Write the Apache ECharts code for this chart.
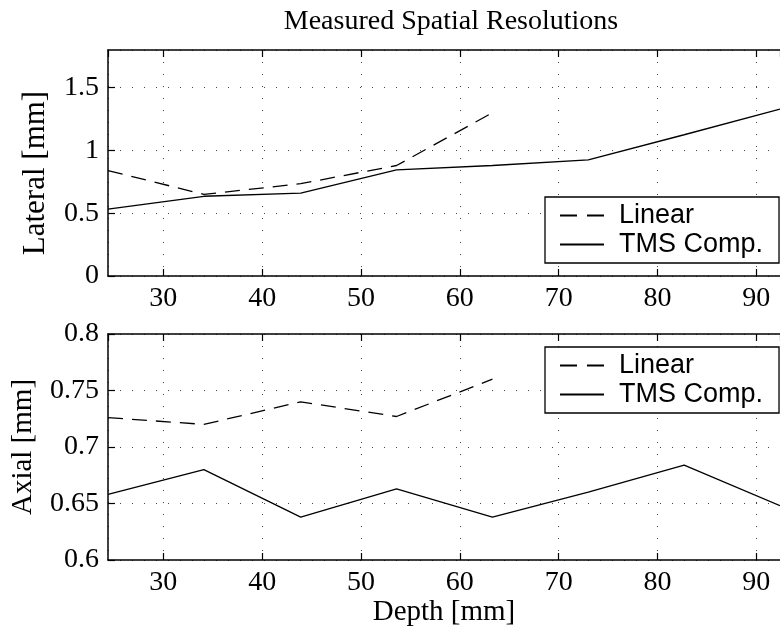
<!DOCTYPE html>
<html>
<head>
<meta charset="utf-8">
<script src="https://cdn.jsdelivr.net/npm/echarts@6/dist/echarts.min.js"></script>
<style>html,body{margin:0;padding:0;background:#fff;}#c{width:780px;height:635px;}</style>
</head>
<body>
<div id="c"></div>
<script>
const depth = [24.4, 34.1, 43.9, 53.6, 63.3, 73.0, 82.7, 92.4];
const lateralLinear = [0.84, 0.65, 0.735, 0.88, 1.30];
const lateralTMS = [0.533, 0.635, 0.66, 0.845, 0.88, 0.925, 1.125, 1.33];
const axialLinear = [0.726, 0.720, 0.740, 0.727, 0.760];
const axialTMS = [0.658, 0.680, 0.638, 0.663, 0.638, 0.660, 0.684, 0.648];
const xTickLabels = ['30', '40', '50', '60', '70', '80', '90'];
const seriesNames = ['Linear', 'TMS Comp.'];

const pairs = (ys) => ys.map((y, i) => [depth[i], y]);
const serif = 'Liberation Serif';
const sans = 'Liberation Sans';
const xMin = depth[0], xMax = depth[depth.length - 1];

const dotted = { color: '#444', width: 1, type: [1, 11] };

function xAxisBottom(grid, withName) {
  return {
    type: 'value', gridIndex: grid, min: xMin, max: xMax, splitNumber: 7, position: 'bottom',
    axisLine: { show: true, onZero: false, lineStyle: { color: '#000', width: 1.5 } },
    axisTick: { show: true, inside: true, length: 7, lineStyle: { color: '#000', width: 1.2 } },
    axisLabel: {
      show: true, margin: 9, color: '#000', fontFamily: serif, fontSize: 28,
      showMinLabel: false, showMaxLabel: false,
      formatter: v => xTickLabels.includes(String(Math.round(v))) && Math.abs(v - Math.round(v)) < 1e-6 ? String(Math.round(v)) : ''
    },
    splitLine: { show: true, lineStyle: dotted },
    name: withName ? 'Depth [mm]' : '',
    nameLocation: 'middle', nameGap: 38,
    nameTextStyle: { color: '#000', fontFamily: serif, fontSize: 29 }
  };
}
function xAxisTop(grid) {
  return {
    type: 'value', gridIndex: grid, min: xMin, max: xMax, splitNumber: 7, position: 'top',
    axisLine: { show: true, onZero: false, lineStyle: { color: '#000', width: 1.5 } },
    axisTick: { show: true, inside: true, length: 7, lineStyle: { color: '#000', width: 1.2 } },
    axisLabel: { show: false },
    splitLine: { show: false }
  };
}

const legendBase = {
  orient: 'vertical', left: 545, itemWidth: 44, itemHeight: 2, itemGap: 2,
  padding: [5, 16, 5, 15], borderColor: '#000', borderWidth: 1.3, backgroundColor: '#fff',
  align: 'left', selectedMode: false,
  textStyle: { color: '#000', fontFamily: sans, fontSize: 27, padding: [0, 0, 0, 10] },
  data: [
    { name: seriesNames[0], icon: 'path://M0,0H17V2H0Z M27,0H44V2H27Z' },
    { name: seriesNames[1], icon: 'path://M0,0H44V2H0Z' }
  ]
};

const lineSeries = (name, xi, yi, data, dashed) => ({
  name, type: 'line', xAxisIndex: xi, yAxisIndex: yi, data, symbol: 'none', silent: true,
  color: '#000', animation: false,
  lineStyle: { color: '#000', width: 1.3, type: dashed ? [15, 9] : 'solid' }
});

const option = {
  animation: false,
  backgroundColor: '#fff',
  title: {
    text: 'Measured Spatial Resolutions', left: 446, top: 3, textAlign: 'center',
    textStyle: { color: '#000', fontFamily: serif, fontSize: 28, fontWeight: 'normal' }
  },
  grid: [
    { left: 108, top: 50, width: 678, height: 226 },
    { left: 108, top: 334, width: 678, height: 226 }
  ],
  legend: [
    Object.assign({}, legendBase, { top: 197 }),
    Object.assign({}, legendBase, { top: 347 })
  ],
  xAxis: [xAxisBottom(0, false), xAxisTop(0), xAxisBottom(1, true), xAxisTop(1)],
  yAxis: [
    {
      type: 'value', gridIndex: 0, min: 0, max: 1.8, interval: 0.5,
      axisLine: { show: true, lineStyle: { color: '#000', width: 1.5 } },
      axisTick: { show: true, inside: true, length: 7, lineStyle: { color: '#000', width: 1.2 } },
      axisLabel: { margin: 9, color: '#000', fontFamily: serif, fontSize: 28, showMaxLabel: false },
      splitLine: { show: true, lineStyle: dotted },
      name: 'Lateral [mm]', nameLocation: 'middle', nameGap: 57, nameRotate: 90,
      nameTextStyle: { color: '#000', fontFamily: serif, fontSize: 31, padding: [0, 20, 0, 0] }
    },
    {
      type: 'value', gridIndex: 1, min: 0.6, max: 0.8, interval: 0.05,
      axisLine: { show: true, lineStyle: { color: '#000', width: 1.5 } },
      axisTick: { show: true, inside: true, length: 7, lineStyle: { color: '#000', width: 1.2 } },
      axisLabel: { margin: 9, color: '#000', fontFamily: serif, fontSize: 28 },
      splitLine: { show: true, lineStyle: dotted },
      name: 'Axial [mm]', nameLocation: 'middle', nameGap: 70, nameRotate: 90,
      nameTextStyle: { color: '#000', fontFamily: serif, fontSize: 29 }
    }
  ],
  series: [
    lineSeries(seriesNames[0], 0, 0, pairs(lateralLinear), true),
    lineSeries(seriesNames[1], 0, 0, pairs(lateralTMS), false),
    lineSeries(seriesNames[0], 2, 1, pairs(axialLinear), true),
    lineSeries(seriesNames[1], 2, 1, pairs(axialTMS), false)
  ]
};

const chart = echarts.init(document.getElementById('c'), null, { renderer: 'canvas' });
chart.setOption(option);
</script>
</body>
</html>
